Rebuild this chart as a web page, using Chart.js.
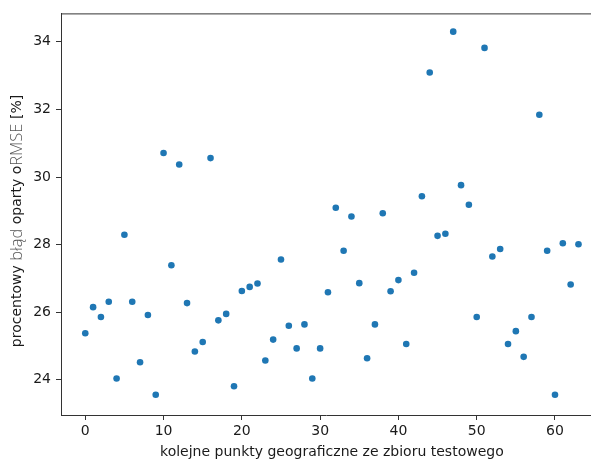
<!DOCTYPE html>
<html>
<head>
<meta charset="utf-8">
<script src="https://cdn.jsdelivr.net/npm/chart.js@4"></script>
<style>
  html, body { margin: 0; padding: 0; background: #fff; }
  #wrap { width: 591px; height: 462px; }
</style>
</head>
<body>
<div id="wrap"><canvas id="chart" width="591" height="462"></canvas></div>
<script>
// RMSE-based percentage error for each test point
const errors = [
  25.38, 26.15, 25.86, 26.31, 24.04, 28.29, 26.31, 24.52, 25.92, 23.56,
  30.71, 27.39, 30.37, 26.27, 24.84, 25.12, 30.56, 25.76, 25.95, 23.81,
  26.63, 26.75, 26.85, 24.57, 25.19, 27.56, 25.60, 24.93, 25.64, 24.04,
  24.93, 26.59, 29.09, 27.82, 28.83, 26.86, 24.64, 25.64, 28.93, 26.62,
  26.95, 25.06, 27.17, 29.43, 33.09, 28.26, 28.32, 34.30, 29.76, 29.18,
  25.86, 33.82, 27.65, 27.87, 25.06, 25.44, 24.68, 25.86, 31.84, 27.82,
  23.56, 28.04, 26.82, 28.01
];
const xTicks = [0, 10, 20, 30, 40, 50, 60];
const yTicks = [24, 26, 28, 30, 32, 34];
const xLabel = 'kolejne punkty geograficzne ze zbioru testowego';
const yLabelParts = [
  ['procentowy ', false],
  ['błąd', true],
  [' oparty o', false],
  ['RMSE', true],
  [' [%]', false]
];

const points = errors.map((v, i) => ({ x: i, y: v }));
const tickFont = { family: 'DejaVu Sans', size: 14 };

// frame top line, x label and the mixed-style y label
const decor = {
  id: 'decor',
  afterDraw(chart) {
    const ctx = chart.ctx;
    const a = chart.chartArea;
    ctx.save();
    ctx.strokeStyle = '#333';
    ctx.lineWidth = 1;
    ctx.beginPath();
    ctx.moveTo(a.left, a.top + 0.5);
    ctx.lineTo(a.right, a.top + 0.5);
    ctx.stroke();

    ctx.fillStyle = '#1a1a1a';
    ctx.font = '14px "DejaVu Sans"';
    ctx.textAlign = 'center';
    ctx.textBaseline = 'middle';
    const cx = chart.scales.x.getPixelForValue(31.5);
    ctx.fillText(xLabel, cx, 452);

    // y label, rotated
    const normal = '14px "DejaVu Sans"';
    const light = '300 16.5px "Open Sans"';
    let total = 0;
    yLabelParts.forEach(p => {
      ctx.font = p[1] ? light : normal;
      total += ctx.measureText(p[0]).width;
    });
    ctx.translate(17, 221);
    ctx.rotate(-Math.PI / 2);
    ctx.textAlign = 'left';
    let pos = -total / 2;
    yLabelParts.forEach(p => {
      ctx.font = p[1] ? light : normal;
      ctx.fillStyle = p[1] ? '#555' : '#1a1a1a';
      ctx.fillText(p[0], pos, 0);
      pos += ctx.measureText(p[0]).width;
    });
    ctx.restore();
  }
};

new Chart(document.getElementById('chart'), {
  type: 'scatter',
  data: {
    datasets: [{
      data: points,
      backgroundColor: '#1f77b4',
      borderWidth: 0,
      pointRadius: 3.3,
      pointHoverRadius: 3.3
    }]
  },
  options: {
    responsive: false,
    animation: false,
    events: [],
    layout: { autoPadding: false, padding: { top: 12, right: 0, left: 0, bottom: 0 } },
    plugins: { legend: { display: false }, tooltip: { enabled: false } },
    scales: {
      x: {
        type: 'linear',
        min: -3.1,
        max: 64.6,
        afterBuildTicks: s => { s.ticks = xTicks.map(v => ({ value: v })); },
        afterFit: s => { s.height = 47; },
        grid: { drawOnChartArea: false, drawTicks: true, tickLength: 5, tickColor: '#333' },
        border: { color: '#333', width: 1 },
        ticks: { font: tickFont, color: '#1a1a1a', padding: 3, maxRotation: 0 }
      },
      y: {
        min: 22.96,
        max: 34.84,
        afterBuildTicks: s => { s.ticks = yTicks.map(v => ({ value: v })); },
        afterFit: s => { s.width = 61; },
        grid: { drawOnChartArea: false, drawTicks: true, tickLength: 5, tickColor: '#333' },
        border: { color: '#333', width: 1 },
        ticks: { font: tickFont, color: '#1a1a1a', padding: 5 }
      }
    }
  },
  plugins: [decor]
});
</script>
</body>
</html>
